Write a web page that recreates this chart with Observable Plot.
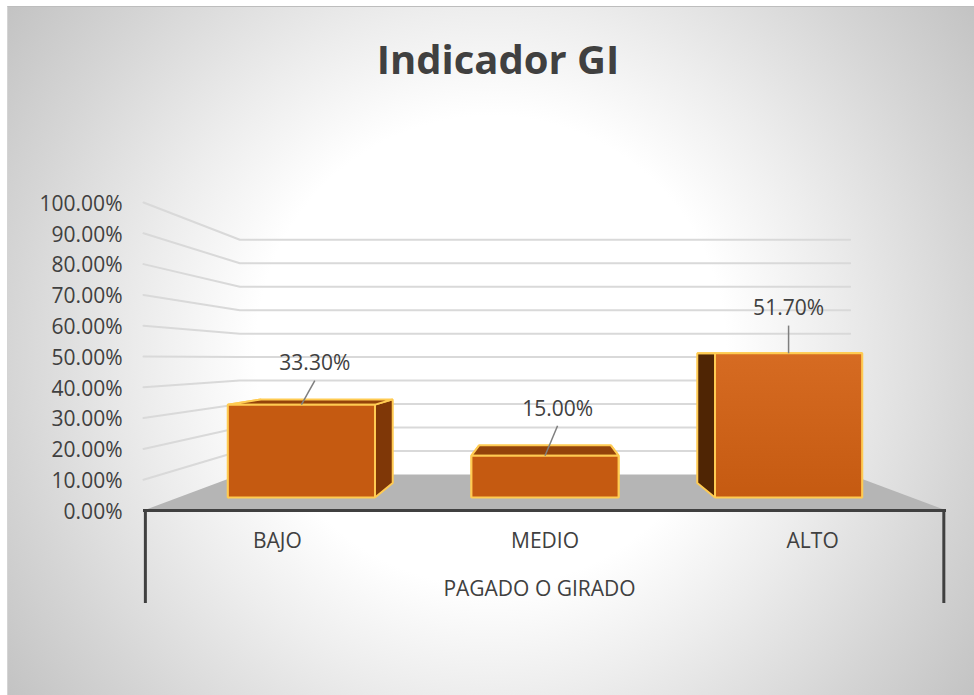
<!DOCTYPE html>
<html lang="es">
<head>
<meta charset="utf-8">
<script src="https://cdn.jsdelivr.net/npm/d3@7"></script>
<script src="https://cdn.jsdelivr.net/npm/@observablehq/plot@0.6"></script>
<style>
  html, body { margin: 0; padding: 0; background: #fff; overflow: hidden; }
  #bg { position: absolute; left: 7px; top: 6px; right: 0; bottom: 0; box-sizing: border-box;
        border-left: 1px solid #d4d4d4; border-top: 1px solid #bdbdbd;
        background: radial-gradient(circle 600px at 483px 344px, #fff 0, #fff 235px, #ededed 345px, #d5d5d5 483px, #c2c2c2 600px); }
  #wrap { position: relative; width: 974px; height: 695px; }
  h1 { margin: 0; height: 100px; width: 974px; box-sizing: border-box; padding-top: 32px; padding-left: 22px;
       text-align: center; font: 700 40px/54px "Open Sans", sans-serif; color: #404040; }
  svg { display: block; }
</style>
</head>
<body>
<div id="bg"></div>
<div id="wrap">
  <h1>Indicador GI</h1>
  <div id="chart"></div>
</div>
<script>
const categories = ["BAJO", "MEDIO", "ALTO"];
const values = [33.3, 15.0, 51.7];
const valueTicks = [0, 10, 20, 30, 40, 50, 60, 70, 80, 90, 100];
const axisTitle = "PAGADO O GIRADO";
const labelShiftU = [0.05, 0.047, 0];
const labelRise = [7.8, 9.7, 9];
const frontFills = ["#c55a11", "#c55a11", "url(#altograd)"];

// Depth planes of the 3D view: s/sx are the perspective shrink, lift the rise of the plane's floor.
const wallFront = {s: 1, sx: 1, lift: 0};
const wallBack = {s: 0.762, sx: 0.76, lift: 11.7};
const barFront = {s: 0.906, sx: 0.91, lift: 4.2};
const barBack = {s: 0.815, sx: 0.815, lift: 8.93};
const vanishU = 1.5;
const halfBar = 0.302;

const P = (u, v, plane) => ({u: vanishU + (u - vanishU) * plane.sx, v: plane.lift + v * plane.s});

const floor = [P(0, 0, wallFront), P(0, 0, wallBack), P(3, 0, wallBack), P(3, 0, wallFront)];
const grid = valueTicks.filter(d => d > 0).flatMap(t => [
  {t, ...P(0, t, wallFront)}, {t, ...P(0, t, wallBack)}, {t, ...P(3, t, wallBack)}
]);

const closed = (pts, fill, stroke = "#ffcb52", strokeWidth = 2) =>
  Plot.line(pts, {x: "u", y: "v", fill, stroke, strokeWidth, curve: "linear-closed", strokeLinejoin: "miter"});

const barMarks = categories.flatMap((c, i) => {
  const l = i + 0.5 - halfBar, r = i + 0.5 + halfBar, v = values[i];
  return [
    closed([P(l, 0, barFront), P(l, 0, barBack), P(l, v, barBack), P(l, v, barFront)], "#4f2504"),
    closed([P(r, 0, barFront), P(r, 0, barBack), P(r, v, barBack), P(r, v, barFront)], "#7f3707"),
    closed([P(l, v, barFront), P(l, v, barBack), P(r, v, barBack), P(r, v, barFront)], "#94430a"),
    closed([P(l, 0, barFront), P(l, v, barFront), P(r, v, barFront), P(r, 0, barFront)], frontFills[i])
  ];
});

const labels = categories.map((c, i) => {
  const a = P(i + 0.5, values[i], barFront);
  return {u1: a.u, v1: a.v, u2: a.u + labelShiftU[i], v2: a.v + labelRise[i], text: values[i].toFixed(2) + "%"};
});

const defs = () => {
  const d = d3.create("svg:defs");
  const g = d.append("linearGradient").attr("id", "altograd").attr("x1", 0).attr("x2", 0).attr("y1", 0).attr("y2", 1);
  g.append("stop").attr("offset", 0).attr("stop-color", "#d66b22");
  g.append("stop").attr("offset", 1).attr("stop-color", "#c55a11");
  return d.node();
};

const plot = Plot.plot({
  width: 974, height: 595,
  marginLeft: 143, marginRight: 28, marginTop: 102, marginBottom: 185,
  style: {background: "transparent", fontFamily: "'Open Sans', sans-serif", fontSize: "21px", color: "#404040", overflow: "visible"},
  x: {domain: [0, 3], axis: null},
  y: {domain: [0, 100], axis: null},
  marks: [
    defs,
    Plot.line(floor, {x: "u", y: "v", fill: "#b5b5b5", stroke: "none", curve: "linear-closed"}),
    Plot.line(grid, {x: "u", y: "v", z: "t", stroke: "#d9d9d9", strokeWidth: 2}),
    Plot.axisY({ticks: valueTicks, tickSize: 0, tickPadding: 21, label: null, fontSize: 21, color: "#404040",
                tickFormat: d => d.toFixed(2) + "%", dy: 1.5}),
    Plot.axisX({ticks: categories.map((c, i) => i + 0.5), tickSize: 0, tickPadding: 23, label: null, fontSize: 21,
                tickFormat: d => categories[Math.floor(d)], anchor: "bottom", color: "#404040"}),
    Plot.text([axisTitle], {x: [1.5], y: [0], dx: -5.5, dy: 79, text: d => d, fontSize: 21, fill: "#404040"}),
    ...barMarks,
    Plot.link(labels, {x1: "u1", y1: "v1", x2: "u2", y2: "v2", stroke: "#7f7f7f", strokeWidth: 1.5}),
    Plot.text(labels, {x: "u2", y: "v2", text: "text", dy: -17, fontSize: 21, fill: "#404040"}),
    Plot.ruleY([0], {x1: 0, x2: 3, stroke: "#404040", strokeWidth: 3}),
    Plot.ruleX([0.007, 2.99], {y1: 0, y2: -30.2, stroke: "#404040", strokeWidth: 3})
  ]
});
document.getElementById("chart").append(plot);
</script>
</body>
</html>
